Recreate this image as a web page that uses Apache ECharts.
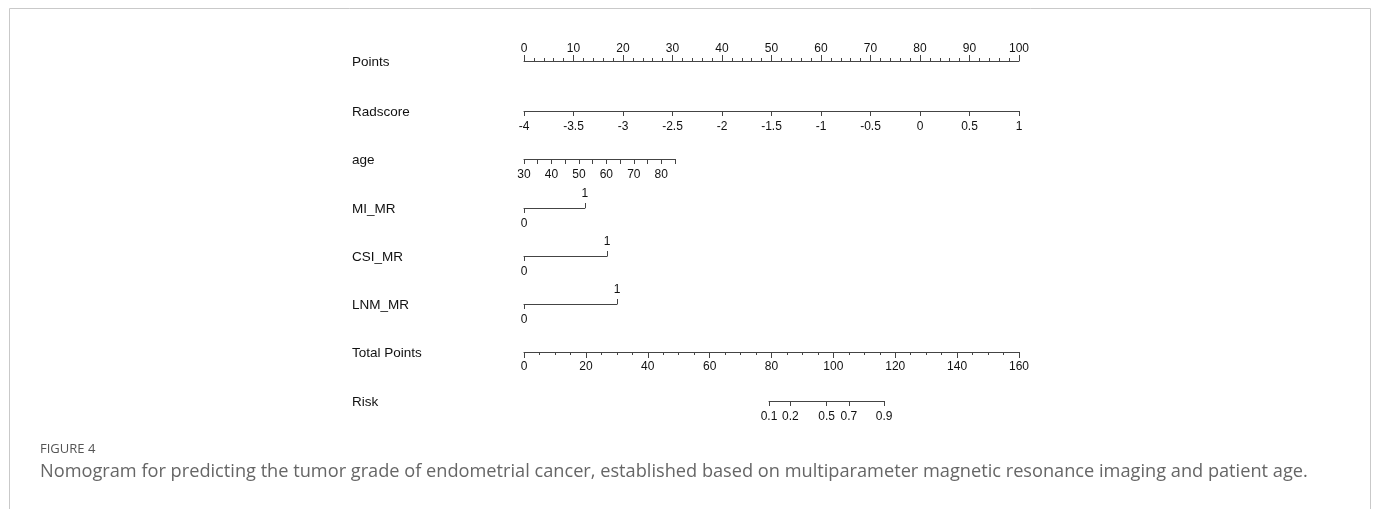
<!DOCTYPE html>
<html>
<head>
<meta charset="utf-8">
<title>Nomogram</title>
<script src="https://cdn.jsdelivr.net/npm/echarts@6.0.0/dist/echarts.min.js"></script>
<style>
  html, body { margin: 0; padding: 0; background: #fff; }
  #main { width: 1373px; height: 509px; }
</style>
</head>
<body>
<div id="main"></div>
<script>
// 行名
var rowNames = ['Points', 'Radscore', 'age', 'MI_MR', 'CSI_MR', 'LNM_MR', 'Total Points', 'Risk'];
// 每行轴线的 y 位置
var rowY = [61, 111, 159, 208, 256, 304, 352, 401];

// Points 轴
var pointsRange = [0, 100];
var pointsStep = 10;
// Radscore 轴
var radscoreRange = [-4, 1];
var radscoreStep = 0.5;
// age 轴
var ageRange = [30, 85];
var ageStep = 5;
var ageLabels = [30, 40, 50, 60, 70, 80];
var agePointsAtMax = 30.5;       // age=85 对应的分数
// 二分类变量 (0/1)，1 对应的分数
var binaryNames = ['MI_MR', 'CSI_MR', 'LNM_MR'];
var binaryPoints = [12.3, 16.8, 18.8];
// Total Points 轴
var totalRange = [0, 160];
var totalStep = 20;
// Risk 轴 (标签及其对应的总分)
var riskLabels = [0.1, 0.2, 0.5, 0.7, 0.9];
var riskTotalPoints = [79.2, 86.1, 97.8, 105.0, 116.4];

var Nomogram = {

	axisLeft: 524,
	axisWidth: 495,
	lineColor: '#444',
	textColor: '#111',

	init: function () {
		this.chart = echarts.init(document.getElementById('main'), null, { renderer: 'canvas' });
		this.render();
	},

	// 生成一行的 grid
	makeGrid: function (left, width, y) {
		return { left: left, top: y, width: width, height: 0, containLabel: false };
	},

	baseAxis: function (gridIndex, position, min, max) {
		var _self = this;
		return {
			type: 'value',
			gridIndex: gridIndex,
			position: position,
			min: min,
			max: max,
			axisLine: { show: true, onZero: false, lineStyle: { color: _self.lineColor, width: 1 } },
			axisTick: { show: true, length: 5, lineStyle: { color: _self.lineColor } },
			axisLabel: { show: true, margin: 9, color: _self.textColor, fontSize: 12, fontFamily: 'Liberation Sans, Arial' },
			splitLine: { show: false }
		};
	},

	render: function () {
		var _self = this;
		var grids = [], xAxes = [], yAxes = [];
		var ppp = this.axisWidth / (pointsRange[1] - pointsRange[0]);

		function addGrid(left, width, y) {
			grids.push(_self.makeGrid(left, width, y));
			var gi = grids.length - 1;
			yAxes.push({ type: 'value', gridIndex: gi, show: false, min: 0, max: 1 });
			return gi;
		}

		// Points
		var g = addGrid(this.axisLeft, this.axisWidth, rowY[0]);
		var ax = this.baseAxis(g, 'top', pointsRange[0], pointsRange[1]);
		ax.interval = pointsStep;
		ax.axisTick.length = 6;
		ax.minorTick = { show: true, splitNumber: 5, length: 3, lineStyle: { color: this.lineColor } };
		ax.axisLabel.margin = 6;
		xAxes.push(ax);

		// Radscore
		g = addGrid(this.axisLeft, this.axisWidth, rowY[1]);
		ax = this.baseAxis(g, 'bottom', radscoreRange[0], radscoreRange[1]);
		ax.interval = radscoreStep;
		ax.axisLabel.margin = 10;
		xAxes.push(ax);

		// age
		g = addGrid(this.axisLeft, agePointsAtMax * ppp, rowY[2]);
		ax = this.baseAxis(g, 'bottom', ageRange[0], ageRange[1]);
		ax.interval = ageStep;
		ax.axisLabel.customValues = ageLabels;
		ax.axisLabel.margin = 10;
		xAxes.push(ax);

		// 二分类变量
		binaryNames.forEach(function (name, i) {
			var gi = addGrid(_self.axisLeft, binaryPoints[i] * ppp, rowY[3 + i]);
			var bottom = _self.baseAxis(gi, 'bottom', 0, 1);
			bottom.axisTick.customValues = [0];
			bottom.axisLabel.customValues = [0];
			bottom.axisLabel.margin = 10;
			var top = _self.baseAxis(gi, 'top', 0, 1);
			top.axisLine.show = false;
			top.axisTick.customValues = [1];
			top.axisLabel.customValues = [1];
			top.axisLabel.margin = 8;
			xAxes.push(bottom, top);
		});

		// Total Points
		g = addGrid(this.axisLeft, this.axisWidth, rowY[6]);
		ax = this.baseAxis(g, 'bottom', totalRange[0], totalRange[1]);
		ax.interval = totalStep;
		ax.axisTick.length = 6;
		ax.minorTick = { show: true, splitNumber: 4, length: 3, lineStyle: { color: this.lineColor } };
		ax.axisLabel.margin = 9;
		xAxes.push(ax);

		// Risk
		var tpp = this.axisWidth / (totalRange[1] - totalRange[0]);
		var rMin = riskTotalPoints[0], rMax = riskTotalPoints[riskTotalPoints.length - 1];
		g = addGrid(this.axisLeft + rMin * tpp, (rMax - rMin) * tpp, rowY[7]);
		ax = this.baseAxis(g, 'bottom', rMin, rMax);
		ax.axisTick.customValues = riskTotalPoints;
		ax.axisLabel.customValues = riskTotalPoints;
		ax.axisLabel.margin = 10;
		ax.axisLabel.formatter = function (v) {
			var idx = riskTotalPoints.indexOf(v);
			return idx >= 0 ? String(riskLabels[idx]) : '';
		};
		xAxes.push(ax);

		// 文字
		var graphics = [];
		graphics.push({
			type: 'rect', silent: true,
			shape: { x: 9.5, y: 8.5, width: 1361, height: 540 },
			style: { fill: 'none', stroke: '#c9c9c9', lineWidth: 1 }
		});
		rowNames.forEach(function (name, i) {
			graphics.push({
				type: 'text', x: 352, y: rowY[i] + 1,
				style: { text: name, fill: _self.textColor, font: '13.5px "Liberation Sans", Arial', verticalAlign: 'middle' }
			});
		});
		graphics.push({
			type: 'text', x: 40, y: 449,
			style: { text: 'FIGURE 4', fill: '#555', font: '13px "Open Sans"', verticalAlign: 'middle' }
		});
		graphics.push({
			type: 'text', x: 40, y: 472,
			style: { text: 'Nomogram for predicting the tumor grade of endometrial cancer, established based on multiparameter magnetic resonance imaging and patient age.', fill: '#666', font: '18.2px "Open Sans"', verticalAlign: 'middle' }
		});

		var option = {
			backgroundColor: '#fff',
			animation: false,
			grid: grids,
			xAxis: xAxes,
			yAxis: yAxes,
			graphic: graphics,
			series: []
		};
		this.chart.setOption(option);
	}
};

Nomogram.init();
</script>
</body>
</html>
